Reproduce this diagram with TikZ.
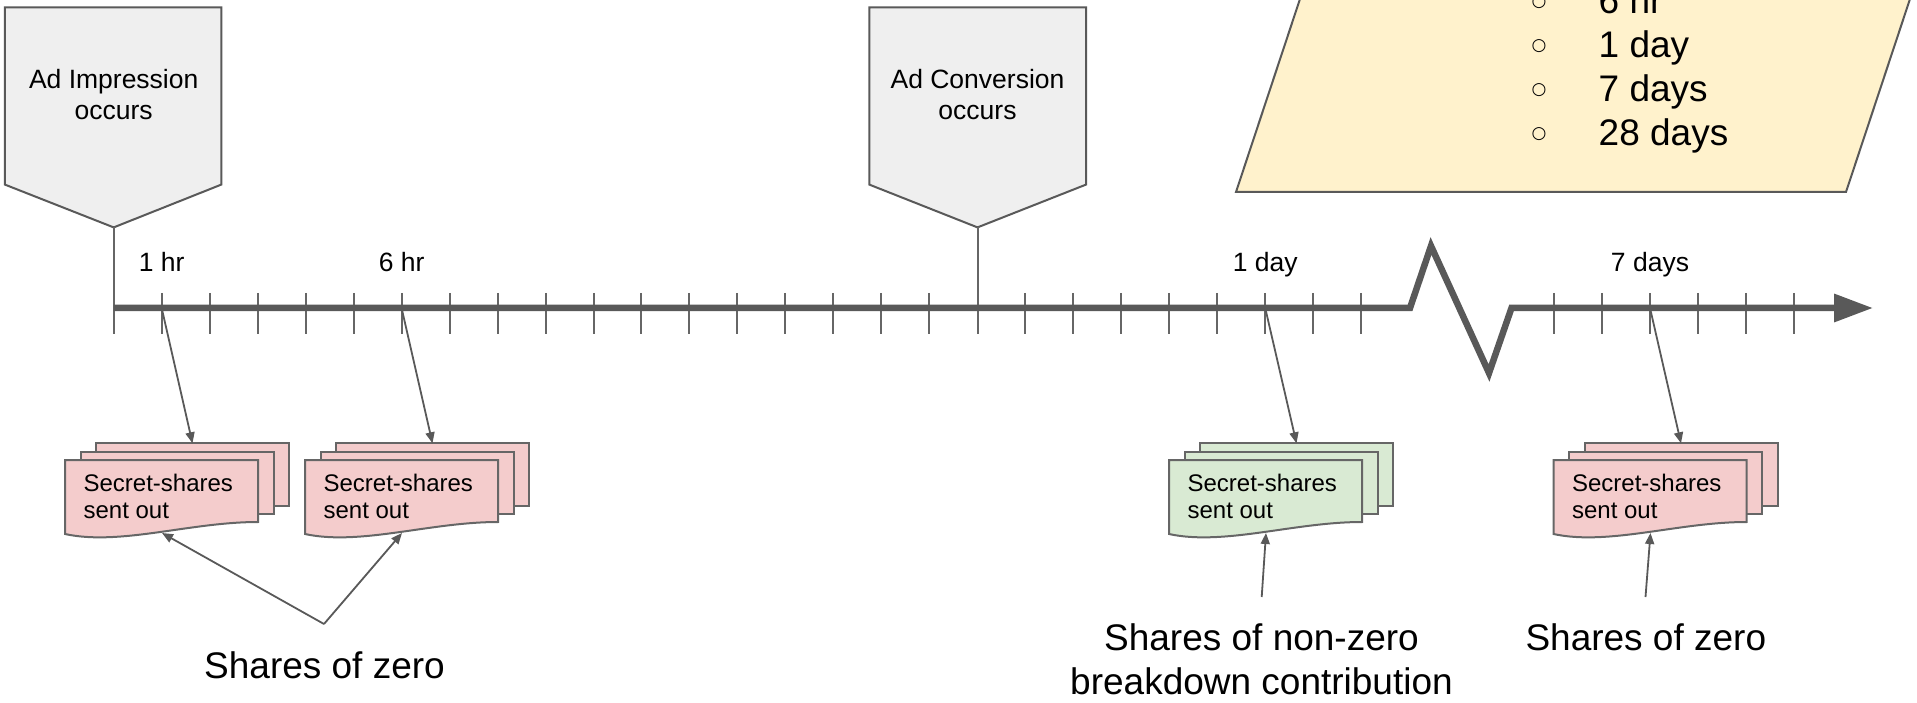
\documentclass[tikz,border=0pt]{standalone}
\usepackage{fontspec}
\setmainfont{Liberation Sans}
\newfontfamily\symfont{DejaVu Sans}
\usetikzlibrary{arrows.meta}

\definecolor{linegray}{HTML}{595959}
\definecolor{edgegray}{HTML}{666666}
\definecolor{eventfill}{HTML}{EFEFEF}
\definecolor{zerofill}{HTML}{F4CCCC}
\definecolor{valuefill}{HTML}{D9EAD3}
\definecolor{notefill}{HTML}{FFF2CC}

\tikzset{
  event/.style={draw=linegray, fill=eventfill, line width=2pt, line join=miter},
  eventtext/.style={font=\fontsize{26.5}{31}\selectfont, align=center, inner sep=0pt, anchor=base},
  ticklabel/.style={font=\fontsize{26.5}{31}\selectfont, inner sep=0pt, anchor=base},
  tickmark/.style={draw=edgegray, line width=2pt},
  axisline/.style={draw=linegray, line width=6.5pt, line join=miter},
  docline/.style={draw=edgegray, line width=2pt},
  doctext/.style={font=\fontsize{24}{27.5}\selectfont, align=left, inner sep=0pt, anchor=base west},
  conn/.style={draw=linegray, line width=1.8pt, -{Triangle[length=11pt,width=9pt]}},
  bigtext/.style={font=\fontsize{37}{44.5}\selectfont, align=center, inner sep=0pt, anchor=base},
  listtext/.style={font=\fontsize{37}{44}\selectfont, inner sep=0pt, anchor=base west},
  bullet/.style={font=\symfont\fontsize{17}{17}\selectfont, inner sep=0pt},
}

% stack of three "document" pages; #1 name, (#2,#3) top-left of the front page, #4 fill
% (a multi-line node's base anchor sits on its last line)
\newcommand\DocStack[4]{%
  \begin{scope}[shift={(#2,#3)}]
    \draw[docline, fill=#4] (31,-16.7) rectangle (224,46);
    \draw[docline, fill=#4] (15.5,-8.3) rectangle (208.5,54);
    \draw[docline, fill=#4] (0,0) -- (193,0) -- (193,62)
      .. controls (125,62) and (55,86) .. (0,74) -- cycle;
    \node[doctext] (#1) at (18.4,58.5) {Secret-shares\\sent out};
    \coordinate (#1-top) at (127.5,-16.7);
    \coordinate (#1-bot) at (97,73);
  \end{scope}}

\begin{document}
\begin{tikzpicture}[x=1pt, y=-1pt]
\useasboundingbox (0,0) rectangle (1917,703);
\clip (0,0) rectangle (1917,703);

% note card with the reporting windows
\draw[draw=linegray, fill=notefill, line width=2pt]
  (1236,192) -- (1846,192) -- (1916.6,-21) -- (1306.6,-21) -- cycle;
\foreach \t/\y [count=\i] in {6 hr/13.5, 1 day/57.5, 7 days/101.5, 28 days/145.5}{
  \node[bullet] (b\i) at (1539,\y-11) {○};
  \node[listtext] (w\i) at (1598.5,\y) {\t};
}

% event markers
\draw[event] (4.9,7.3) -- (221.3,7.3) -- (221.3,184.6) -- (113.7,227.4) -- (4.9,184.6) -- cycle;
\coordinate (imp-tip) at (113.7,227.4);
\node[eventtext] (imp) at (113.7,120) {Ad Impression\\occurs};

\draw[event] (869.3,7.3) -- (1086,7.3) -- (1086,184.6) -- (977.5,227.4) -- (869.3,184.6) -- cycle;
\coordinate (conv-tip) at (977.5,227.4);
\node[eventtext] (conv) at (977.5,120) {Ad Conversion\\occurs};

% tick positions
\foreach \k in {0,...,26} \coordinate (t\k) at ({113.7+47.98*\k},308);
\foreach \j in {0,...,5} \coordinate (u\j) at ({1554+48*\j},308);

\coordinate (imp-foot) at (113.7,334);
\coordinate (conv-foot) at (977.5,334);
\draw[tickmark] (imp-tip) -- (imp-foot);
\draw[tickmark] (conv-tip) -- (conv-foot);
\foreach \k in {1,...,17,19,20,...,26}
  \draw[tickmark] ([yshift=15pt]t\k) -- ([yshift=-26pt]t\k);
\foreach \j in {0,...,5}
  \draw[tickmark] ([yshift=15pt]u\j) -- ([yshift=-26pt]u\j);

% time axis with a break
\coordinate (brk-a) at (1410,308);
\coordinate (brk-b) at (1431,246);
\coordinate (brk-c) at (1489,373);
\coordinate (brk-d) at (1511.5,308);
\coordinate (axis-end) at (1873,308);
\draw[axisline, -{Triangle[length=39pt,width=27pt]}]
  (t0) -- (brk-a) -- (brk-b) -- (brk-c) -- (brk-d) -- (axis-end);

% tick labels
\node[ticklabel] (l1) at (161.7,272) {1 hr};
\node[ticklabel] (l6) at (401.6,272) {6 hr};
\node[ticklabel] (l24) at (1265.2,272) {1 day};
\node[ticklabel] (l7d) at (1650,272) {7 days};

% secret-share batches
\DocStack{d1}{65}{460}{zerofill}
\DocStack{d2}{305}{460}{zerofill}
\DocStack{d3}{1169}{460}{valuefill}
\DocStack{d4}{1553.5}{460}{zerofill}

\draw[conn] (t1) -- (d1-top);
\draw[conn] (t6) -- (d2-top);
\draw[conn] (t24) -- (d3-top);
\draw[conn] (u2) -- (d4-top);

% explanations below
\node[bigtext] (z1) at (324.5,678) {Shares of zero};
\coordinate (z1-apex) at (324,624);
\draw[conn] (z1-apex) -- (d1-bot);
\draw[conn] (z1-apex) -- (d2-bot);

\node[bigtext] (nz) at (1261.5,694.5) {Shares of non-zero\\breakdown contribution};
\coordinate (nz-top) at (1261.7,597);
\draw[conn] (nz-top) -- (d3-bot);

\node[bigtext] (z2) at (1645.8,650) {Shares of zero};
\coordinate (z2-top) at (1645.5,597);
\draw[conn] (z2-top) -- (d4-bot);
\end{tikzpicture}
\end{document}
